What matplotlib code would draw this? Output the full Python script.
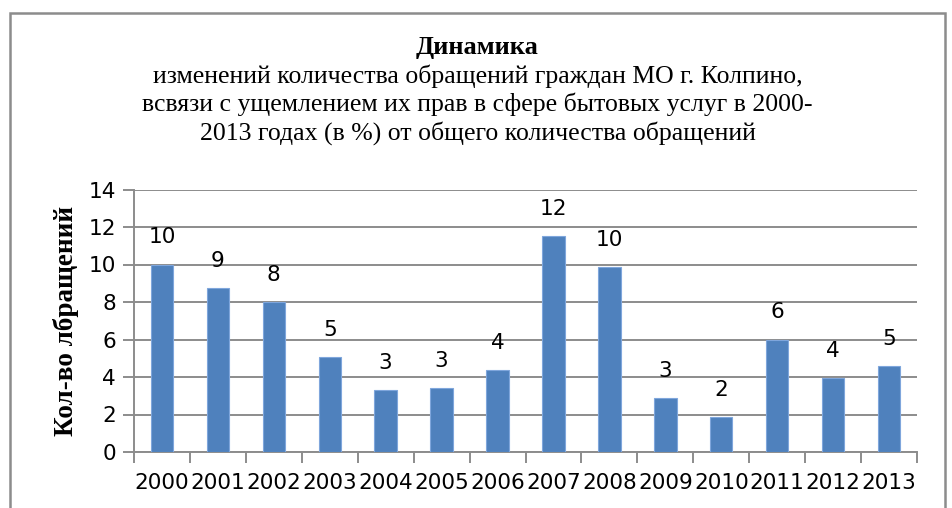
import matplotlib
matplotlib.use("Agg")
import matplotlib.pyplot as plt
from matplotlib.patches import Rectangle
import numpy as np

years = ["2000", "2001", "2002", "2003", "2004", "2005", "2006",
         "2007", "2008", "2009", "2010", "2011", "2012", "2013"]
values = [10.0, 8.76, 8.0, 5.05, 3.3, 3.4, 4.35,
          11.54, 9.86, 2.89, 1.86, 6.0, 3.94, 4.57]
labels = ["10", "9", "8", "5", "3", "3", "4", "12", "10", "3", "2", "6", "4", "5"]
yticks = [0, 2, 4, 6, 8, 10, 12, 14]

title_bold = "Динамика"
title_lines = ["изменений количества обращений граждан МО г. Колпино,",
               "всвязи с ущемлением их прав в сфере бытовых услуг в 2000-",
               "2013 годах (в %) от общего количества обращений"]
ylabel = "Кол-во лбращений"

W, H = 952, 508
fig = plt.figure(figsize=(W / 100, H / 100), dpi=100)
fig.patch.set_facecolor("white")

# outer chart border
fig.patches.append(Rectangle((10 / W, -0.05), 935 / W, 1.05 - 13.5 / H,
                             transform=fig.transFigure, fill=False,
                             edgecolor="#8c8c8c", linewidth=1.8))

ax = fig.add_axes([134 / W, (H - 452) / H, (917 - 134) / W, (452 - 189.5) / H])
x = np.arange(len(years))
ax.bar(x, values, width=0.4, color="#4F81BD", edgecolor="#7fa6dc",
       linewidth=0.8, zorder=3)

ax.set_xlim(-0.5, len(years) - 0.5)
ax.set_ylim(0, 14)
ax.set_yticks(yticks)
ax.grid(axis="y", color="#8c8c8c", linewidth=1.4, zorder=0)
ax.set_axisbelow(True)

sans = ["DejaVu Sans"]
serif = ["Liberation Serif", "DejaVu Serif"]
nfs = 15.6

ax.set_xticks(x)
ax.set_xticklabels(years, family=sans, fontsize=nfs)
ax.set_xticks(np.arange(-0.5, len(years)), minor=True)
ax.tick_params(axis="x", which="major", length=0, pad=15)
ax.tick_params(axis="x", which="minor", length=8, color="#8c8c8c", width=1.4)
ax.tick_params(axis="y", length=8, color="#8c8c8c", width=1.4, pad=5)
for lab in ax.get_yticklabels():
    lab.set_family(sans)
    lab.set_fontsize(nfs)

for s in ["top", "right"]:
    ax.spines[s].set_visible(False)
for s in ["left", "bottom"]:
    ax.spines[s].set_color("#8c8c8c")
    ax.spines[s].set_linewidth(1.4)

for xi, v, lab in zip(x, values, labels):
    ax.annotate(lab, (xi, v), xytext=(0, 19.5), textcoords="offset points",
                ha="center", va="center", family=sans, fontsize=nfs)

ax.set_ylabel(ylabel, family=serif, fontweight="bold", fontsize=19.5)
ax.yaxis.set_label_coords((79 - 134) / 783, 0.5)

cx = (10 + 945) / 2 / W
fig.text(cx, 1 - 47 / H, title_bold, ha="center", va="center",
         family=serif, fontweight="bold", fontsize=19)
for i, line in enumerate(title_lines):
    fig.text(cx, 1 - (76 + 28.5 * i) / H, line, ha="center", va="center",
             family=serif, fontsize=18.5)

fig.savefig("out.png", dpi=100)
